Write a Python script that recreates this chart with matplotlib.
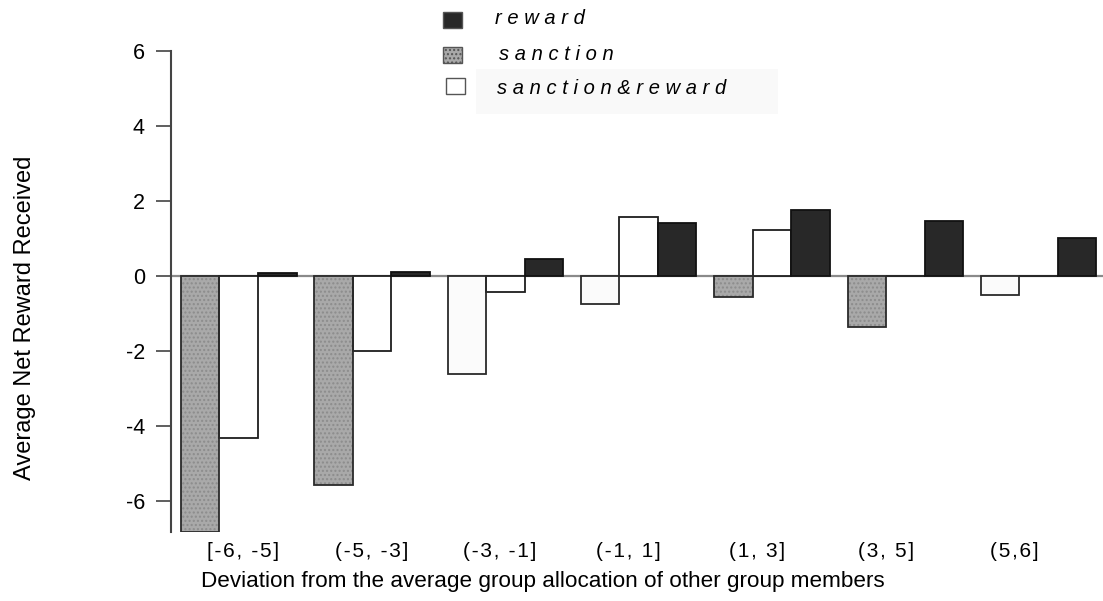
import matplotlib
matplotlib.use("Agg")
import matplotlib.pyplot as plt
from matplotlib.patches import Rectangle
import numpy as np

CATEGORIES = ["[-6, -5]", "(-5, -3]", "(-3, -1]", "(-1, 1]", "(1, 3]", "(3, 5]", "(5,6]"]
SANCTION = [-6.83, -5.58, -2.61, -0.76, -0.57, -1.35, -0.50]
SANCTION_REWARD = [-4.32, -2.00, -0.44, 1.56, 1.22, 0.0, 0.0]
REWARD = [0.07, 0.10, 0.44, 1.41, 1.75, 1.47, 1.01]
Y_TICKS = [-6, -4, -2, 0, 2, 4, 6]
LEGEND_LABELS = ["reward", "sanction", "sanction&reward"]

FONT = ["Liberation Sans", "DejaVu Sans"]
plt.rcParams["font.family"] = FONT


def spaced(s, gap):
    return gap.join(s)


fig = plt.figure(figsize=(11.03, 6.01), dpi=100)
ax = fig.add_axes([171 / 1103, 1 - 532 / 601, 1 - 171 / 1103, (532 - 51) / 601])

x = np.arange(len(CATEGORIES))
w = 0.289

# first slot: hatched grey normally, near-white in some groups (as in the original)
slot1_face = ["#a9a9a9", "#a9a9a9", "#fbfbfb", "#fbfbfb", "#a9a9a9", "#a9a9a9", "#fbfbfb"]
slot1_hatch = ["....", "....", None, None, "....", "....", None]
for i in range(len(x)):
    ax.bar(x[i] - w, SANCTION[i], w, color=slot1_face[i], hatch=slot1_hatch[i],
           edgecolor="#8c8c8c", linewidth=0, zorder=2)
ax.bar(x - w, SANCTION, w, fill=False, edgecolor="#2a2a2a", linewidth=1.3, zorder=3)
ax.bar(x, SANCTION_REWARD, w, color="white", edgecolor="#1e1e1e", linewidth=1.3, zorder=2)
ax.bar(x + w, REWARD, w, color="#282828", edgecolor="#111111", linewidth=1.3, zorder=2)

ax.axhline(0, color="#8a8a8a", linewidth=1.6, zorder=1)

ax.set_xlim(-0.508, 6.483)
ax.set_ylim(-6.83, 6)
ax.set_yticks(Y_TICKS)
ax.set_yticklabels([str(t) for t in Y_TICKS], fontsize=15.5)
ax.tick_params(axis="y", direction="out", length=10.8, width=1.1, color="#333333", pad=8)
# category labels in the original sit slightly tighter than the bar groups
ax.set_xticks(x * 0.965 + 0.03)
ax.set_xticklabels([spaced(c, "\u200a") for c in CATEGORIES], fontsize=15)
ax.tick_params(axis="x", length=0, pad=7)

for side in ["top", "right", "bottom"]:
    ax.spines[side].set_visible(False)
ax.spines["left"].set_color("#444444")
ax.spines["left"].set_linewidth(1.5)

fig.text(543 / 1103, 1 - 581 / 601,
         "Deviation from the average group allocation of other group members",
         fontsize=16.2, ha="center", va="center")
fig.text(25 / 1103, 1 - 318 / 601, "Average Net Reward Received", rotation=90,
         ha="center", va="center", fontsize=17)

# legend drawn by hand, as in the original
fig.patches.append(Rectangle((476 / 1103, 1 - 114 / 601), 302 / 1103, 45 / 601,
                             transform=fig.transFigure, facecolor="#f9f9f9",
                             edgecolor="none", zorder=0))
leg_boxes = [(443, 12), (443, 47), (446, 78)]
leg_face = ["#282828", "#a9a9a9", "white"]
leg_hatch = [None, "....", None]
leg_text_x = [495, 499, 497]
leg_text_y = [19, 55, 88]
for (bx, by), fc, hh, tx, ty, lab in zip(leg_boxes, leg_face, leg_hatch, leg_text_x,
                                          leg_text_y, LEGEND_LABELS):
    fig.patches.append(Rectangle((bx / 1103, 1 - (by + 16) / 601), 19 / 1103, 16 / 601,
                                 transform=fig.transFigure, facecolor=fc, hatch=hh,
                                 edgecolor="#555555", linewidth=1.0, zorder=3))
    fig.text(tx / 1103, 1 - ty / 601, spaced(lab, "\u2009\u200a"), fontsize=14.5,
             style="italic", ha="left", va="center")

fig.savefig("out.png", dpi=100)
